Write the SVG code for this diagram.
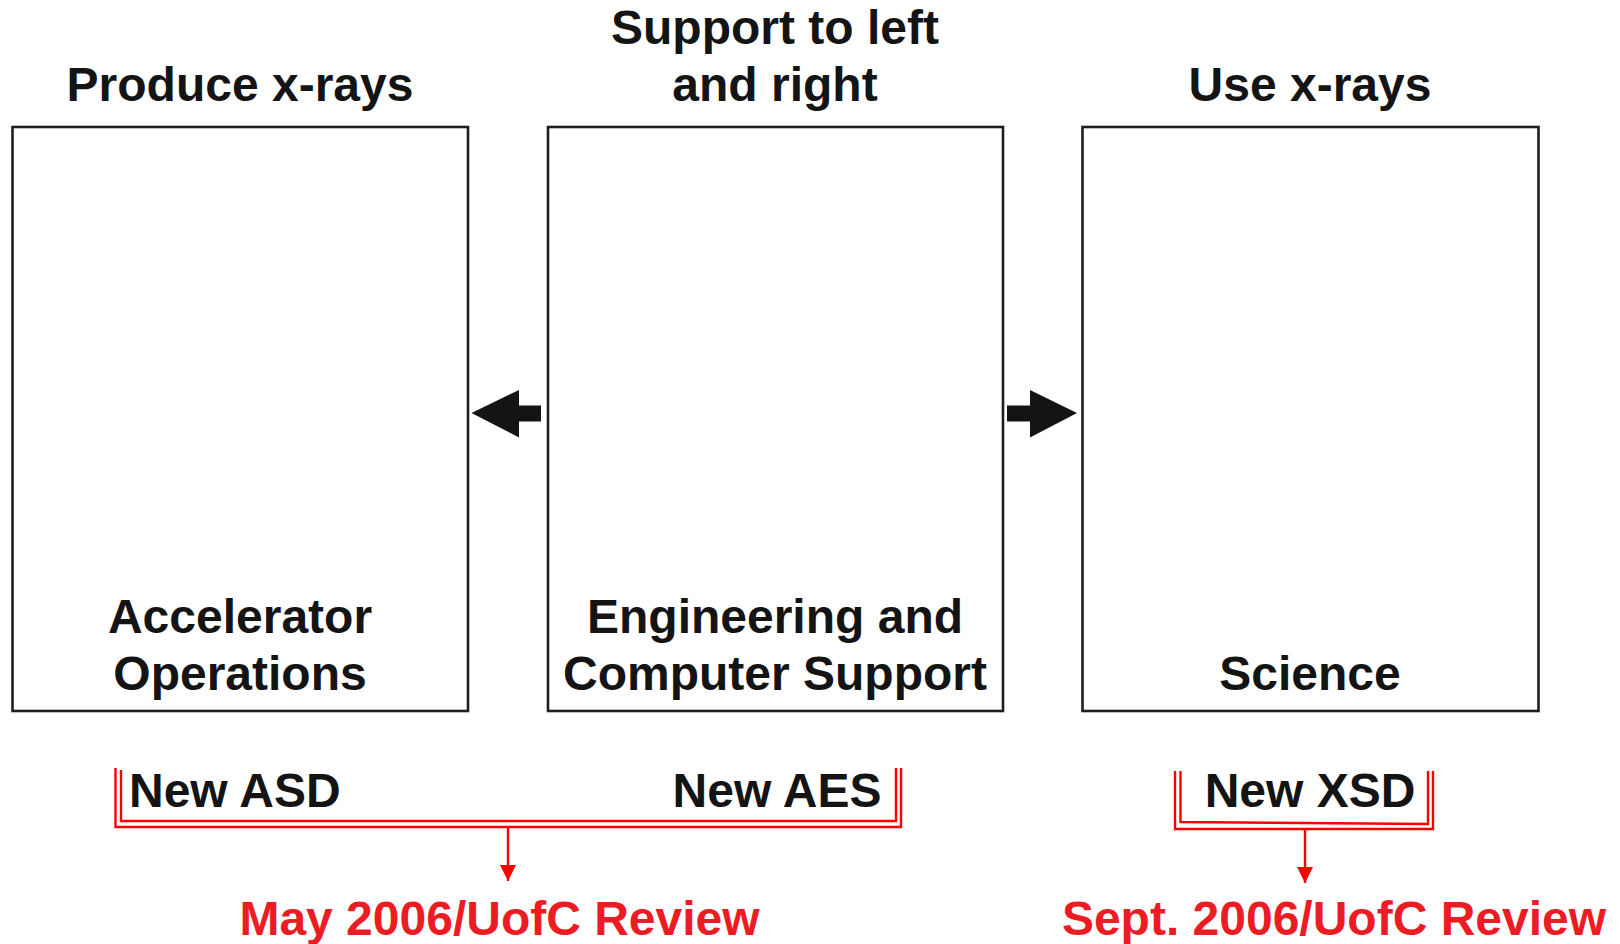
<svg xmlns="http://www.w3.org/2000/svg" width="1620" height="944" viewBox="0 0 1620 944">
  <style>
    .box { fill: #ffffff; stroke: #1e1e1e; stroke-width: 2.6; }
    .lbl { font-family: "Liberation Sans", Arial, sans-serif; font-weight: bold; font-size: 48px; fill: #141414; text-anchor: middle; }
    .red { font-family: "Liberation Sans", Arial, sans-serif; font-weight: bold; font-size: 48px; fill: #ec1c24; text-anchor: middle; }
    .brk { fill: none; stroke: #ff0000; stroke-width: 2.4; }
    .blk { fill: #141414; }
  </style>
  <defs>
    <marker id="redHead" viewBox="0 0 10 10" refX="10" refY="5" markerWidth="16" markerHeight="16" markerUnits="userSpaceOnUse" orient="auto">
      <path d="M0,0 L10,5 L0,10 Z" fill="#ff0000"/>
    </marker>
  </defs>

  <rect width="1620" height="944" fill="#ffffff"/>

  <!-- Column headings -->
  <text class="lbl" x="240" y="101">Produce x-rays</text>
  <text class="lbl" x="775" y="44">Support to left</text>
  <text class="lbl" x="775" y="101">and right</text>
  <text class="lbl" x="1310" y="101">Use x-rays</text>

  <!-- Divisions -->
  <g id="accelerator">
    <rect class="box" x="12.5" y="127" width="455.5" height="584"/>
    <text class="lbl" x="240" y="633">Accelerator</text>
    <text class="lbl" x="240" y="690">Operations</text>
  </g>
  <g id="engineering">
    <rect class="box" x="548" y="127" width="455" height="584"/>
    <text class="lbl" x="775" y="633">Engineering and</text>
    <text class="lbl" x="775" y="690">Computer Support</text>
  </g>
  <g id="science">
    <rect class="box" x="1082.5" y="127" width="456" height="584"/>
    <text class="lbl" x="1310" y="690">Science</text>
  </g>

  <!-- Connectors -->
  <g id="connectors">
    <!-- support flows out to both sides -->
    <polygon class="blk" points="471.5,413 519,390 519,405.5 541,405.5 541,421.5 519,421.5 519,437.5"/>
    <polygon class="blk" points="1077,413 1030,390 1030,405.5 1007,405.5 1007,421.5 1030,421.5 1030,437.5"/>

    <!-- new ASD + AES bracket -->
    <path class="brk" d="M115.5,768 V827 H901 V768"/>
    <path class="brk" d="M121,770 V821 H896 V768"/>
    <line class="brk" x1="508" y1="827" x2="508" y2="881" marker-end="url(#redHead)"/>

    <!-- new XSD bracket -->
    <path class="brk" d="M1175,771 V829 H1433 V771"/>
    <path class="brk" d="M1180.5,771 V822 L1428,824 V771"/>
    <line class="brk" x1="1305" y1="829" x2="1305" y2="883" marker-end="url(#redHead)"/>
  </g>

  <!-- Reorganisation labels -->
  <text class="lbl" x="129" y="807" style="text-anchor:start">New ASD</text>
  <text class="lbl" x="881.5" y="807" style="text-anchor:end">New AES</text>
  <text class="lbl" x="1310" y="807">New XSD</text>

  <text class="red" x="499.5" y="935">May 2006/UofC Review</text>
  <text class="red" x="1334" y="935">Sept. 2006/UofC Review</text>
</svg>
